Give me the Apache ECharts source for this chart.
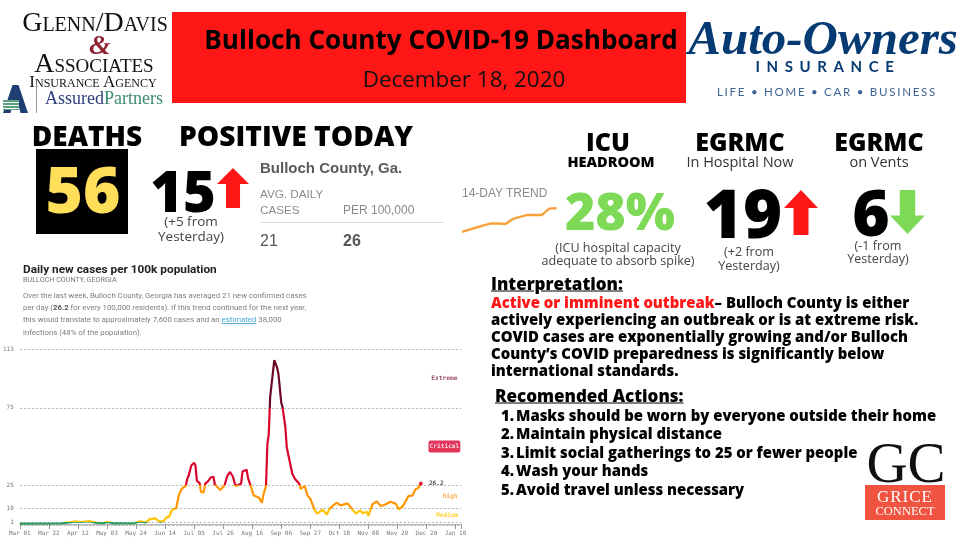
<!DOCTYPE html>
<html>
<head>
<meta charset="utf-8">
<title>Bulloch County COVID-19 Dashboard</title>
<script src="https://cdn.jsdelivr.net/npm/echarts@6/dist/echarts.min.js"></script>
<style>
  html, body { margin: 0; padding: 0; background: #fff; }
  #page { position: relative; width: 960px; height: 540px; overflow: hidden; font-family: "Open Sans", sans-serif; }
  #chart { position: absolute; left: 0; top: 0; width: 960px; height: 540px; }
  .t { position: absolute; white-space: nowrap; line-height: 1; transform: translateY(-50%); }
  .c { transform: translate(-50%, -50%); }
  .box { position: absolute; }
  .up { clip-path: polygon(50% 0, 100% 40%, 72% 40%, 72% 100%, 28% 100%, 28% 40%, 0 40%); }
  .down { clip-path: polygon(28% 0, 72% 0, 72% 58%, 100% 58%, 50% 100%, 0 58%, 28% 58%); }
  .big { font-weight: 800; color: #000; }
  .note { font-size: 13.5px; color: #444; }
  .head { font-weight: 800; color: #000; font-size: 25px; }
  .rep { font-family: Roboto, sans-serif; color: #7d7d7d; font-size: 7.8px; }
  .nyt { font-family: "Liberation Sans", sans-serif; color: #8a8a8a; font-size: 12px; }
  .body { font-weight: 800; color: #000; font-size: 14.9px; }
  .serif { font-family: "Liberation Serif", serif; color: #111; }
</style>
</head>
<body>
<div id="page">
  <div id="chart"></div>

  <!-- left logo -->
  <div class="t c serif" style="left:95px;top:22px;font-size:28px;font-variant:small-caps;">Glenn/Davis</div>
  <div class="t c serif" style="left:100px;top:45px;font-size:28px;font-style:italic;font-weight:700;color:#8c2232;">&amp;</div>
  <div class="t c serif" style="left:94px;top:63px;font-size:27.8px;font-variant:small-caps;">Associates</div>
  <div class="t c serif" style="left:93px;top:81px;font-size:17px;font-variant:small-caps;">Insurance Agency</div>
  <div class="box" style="left:3px;top:85px;width:25px;height:28px;background:#1f3f73;clip-path:polygon(38% 0,62% 0,100% 100%,70% 100%,58% 60%,42% 60%,30% 100%,0 100%);"></div>
  <div class="box" style="left:3px;top:100px;width:16px;height:10px;background:repeating-linear-gradient(#5aa17f 0 2px,#fff 2px 3px);"></div>
  <div class="box" style="left:36px;top:84px;width:1px;height:29px;background:#999;"></div>
  <div class="t serif" style="left:45px;top:98px;font-size:18px;color:#2b3f7e;">Assured<span style="color:#3d8c6c;">Partners</span></div>

  <!-- banner -->
  <div class="box" style="left:172px;top:12px;width:514px;height:91px;background:#ff1616;"></div>
  <div class="t c" style="left:441px;top:39px;font-size:26.1px;font-weight:700;color:#000;">Bulloch County COVID-19 Dashboard</div>
  <div class="t c" style="left:464px;top:79px;font-size:22.4px;color:#111;">December 18, 2020</div>

  <!-- right logo -->
  <div class="t c serif" style="left:823px;top:37px;font-size:49px;font-style:italic;font-weight:700;color:#053a73;">Auto-Owners</div>
  <div class="t c" style="left:828px;top:66px;font-size:15px;font-weight:700;letter-spacing:6.6px;color:#053a73;font-family:Lato,sans-serif;">INSURANCE</div>
  <div class="t c" style="left:827px;top:92px;font-size:11.5px;letter-spacing:1.75px;color:#3d6494;font-family:Lato,sans-serif;">LIFE • HOME • CAR • BUSINESS</div>

  <!-- deaths and positive -->
  <div class="t c big" style="left:87px;top:135px;font-size:28px;">DEATHS</div>
  <div class="box" style="left:36px;top:149px;width:92px;height:85px;background:#000;"></div>
  <div class="t c" style="left:83px;top:189px;font-size:64px;font-weight:800;color:#ffde59;">56</div>
  <div class="t c big" style="left:296px;top:135px;font-size:28.2px;">POSITIVE TODAY</div>
  <div class="t c big" style="left:183px;top:190px;font-size:56px;">15</div>
  <div class="box up" style="left:217px;top:168px;width:32px;height:40px;background:#ff1616;"></div>
  <div class="t c note" style="left:191px;top:222px;">(+5 from</div>
  <div class="t c note" style="left:191px;top:237px;">Yesterday)</div>

  <!-- county table -->
  <div class="t nyt" style="left:260px;top:167px;font-size:15px;font-weight:700;color:#5a5a5a;">Bulloch County, Ga.</div>
  <div class="t nyt" style="left:260px;top:194px;font-size:11.7px;">AVG. DAILY</div>
  <div class="t nyt" style="left:260px;top:210px;font-size:11.7px;">CASES</div>
  <div class="t nyt" style="left:343px;top:210px;">PER 100,000</div>
  <div class="box" style="left:260px;top:222px;width:184px;height:1px;background:#ddd;"></div>
  <div class="t nyt" style="left:260px;top:241px;font-size:16px;color:#555;">21</div>
  <div class="t nyt" style="left:343px;top:241px;font-size:16px;font-weight:700;color:#555;">26</div>
  <div class="t nyt" style="left:462px;top:193px;">14-DAY TREND</div>

  <!-- ICU -->
  <div class="t c head" style="left:608px;top:141px;">ICU</div>
  <div class="t c" style="left:611px;top:162px;font-size:14.5px;font-weight:800;color:#000;">HEADROOM</div>
  <div class="t c" style="left:620px;top:210px;font-size:52px;font-weight:800;color:#7ed957;">28%</div>
  <div class="t c note" style="left:618px;top:248px;font-size:12.6px;">(ICU hospital capacity</div>
  <div class="t c note" style="left:618px;top:261px;font-size:12.6px;">adequate to absorb spike)</div>

  <!-- in hospital -->
  <div class="t c head" style="left:740px;top:141px;">EGRMC</div>
  <div class="t c" style="left:740px;top:162px;font-size:14.5px;color:#333;">In Hospital Now</div>
  <div class="t c big" style="left:743px;top:212px;font-size:67px;">19</div>
  <div class="box up" style="left:784px;top:190px;width:34px;height:45px;background:#ff1616;"></div>
  <div class="t c note" style="left:749px;top:252px;font-size:12.6px;">(+2 from</div>
  <div class="t c note" style="left:749px;top:266px;font-size:12.6px;">Yesterday)</div>

  <!-- vents -->
  <div class="t c head" style="left:879px;top:141px;">EGRMC</div>
  <div class="t c" style="left:879px;top:162px;font-size:14.5px;color:#333;">on Vents</div>
  <div class="t c big" style="left:871px;top:212px;font-size:64px;">6</div>
  <div class="box down" style="left:890px;top:190px;width:35px;height:44px;background:#7ed957;"></div>
  <div class="t c note" style="left:878px;top:246px;font-size:12.6px;">(-1 from</div>
  <div class="t c note" style="left:878px;top:259px;font-size:12.6px;">Yesterday)</div>

  <!-- report text over the chart -->
  <div class="t" style="left:23px;top:269px;font:700 11.8px Roboto,sans-serif;color:#222;">Daily new cases per 100k population</div>
  <div class="t rep" style="left:23px;top:280px;font-size:7.2px;color:#777;">BULLOCH COUNTY, GEORGIA</div>
  <div class="t rep" style="left:23px;top:296px;">Over the last week, Bulloch County, Georgia has averaged 21 new confirmed cases</div>
  <div class="t rep" style="left:23px;top:308px;">per day (<b style="color:#555">26.2</b> for every 100,000 residents). If this trend continued for the next year,</div>
  <div class="t rep" style="left:23px;top:320px;">this would translate to approximately 7,600 cases and an <u style="color:#4aa8d8">estimated</u> 38,000</div>
  <div class="t rep" style="left:23px;top:333px;">infections (48% of the population).</div>

  <!-- interpretation -->
  <div class="t body" style="left:491px;top:283px;font-size:17px;text-decoration:underline;">Interpretation:</div>
  <div class="t body" style="left:491px;top:302px;"><span style="color:#ff1616;">Active or imminent outbreak</span>– Bulloch County is either</div>
  <div class="t body" style="left:491px;top:319px;">actively experiencing an outbreak or is at extreme risk.</div>
  <div class="t body" style="left:491px;top:336px;">COVID cases are exponentially growing and/or Bulloch</div>
  <div class="t body" style="left:491px;top:353px;">County’s COVID preparedness is significantly below</div>
  <div class="t body" style="left:491px;top:370px;">international standards.</div>

  <div class="t body" style="left:495px;top:395px;font-size:17px;text-decoration:underline;">Recomended Actions:</div>
  <div class="t body" style="left:501px;top:415px;">1.</div><div class="t body" style="left:516px;top:415px;">Masks should be worn by everyone outside their home</div>
  <div class="t body" style="left:501px;top:433px;">2.</div><div class="t body" style="left:516px;top:433px;">Maintain physical distance</div>
  <div class="t body" style="left:501px;top:452px;">3.</div><div class="t body" style="left:516px;top:452px;">Limit social gatherings to 25 or fewer people</div>
  <div class="t body" style="left:501px;top:470px;">4.</div><div class="t body" style="left:516px;top:470px;">Wash your hands</div>
  <div class="t body" style="left:501px;top:489px;">5.</div><div class="t body" style="left:516px;top:489px;">Avoid travel unless necessary</div>

  <!-- grice connect logo -->
  <div class="t c serif" style="left:906px;top:462px;font-size:57px;">GC</div>
  <div class="box" style="left:865px;top:485px;width:80px;height:35px;background:#f0533f;"></div>
  <div class="t c serif" style="left:905px;top:496px;font-size:17px;color:#fff;letter-spacing:1px;">GRICE</div>
  <div class="t c serif" style="left:905px;top:511px;font-size:12.5px;color:#fff;">CONNECT</div>
</div>

<script>
// days since Mar 01
var days = [0, 30, 36, 40, 44, 50, 55, 60, 63, 68, 83, 87, 91, 94, 98, 101, 104, 106, 108, 110,
    113, 115, 117, 120, 121, 122, 124, 126, 127, 128, 130, 131, 133, 134, 136, 138, 140, 141, 145, 148, 150,
    152, 154, 156, 160, 161, 164, 165, 166, 167, 169, 173, 175, 176, 178, 179, 180, 181, 182, 184, 186, 187,
    189, 190, 192, 193, 195, 197, 199, 202, 203, 206, 208, 210, 213, 215, 219, 222, 224, 229, 232, 237, 240,
    243, 246, 248, 251, 252, 255, 258, 261, 264, 268, 272, 274, 277, 281, 284, 286, 288, 290];

// daily new cases per 100k
var cases = [0.2, 0.4, 1.1, 1.7, 1.3, 1.9, 0.9, 0.4, 1.3, 0.4, 0.6, 1.7, 1.0, 3.2, 3.6, 1.5, 1.9, 4.3, 4.7, 9.2,
    10, 18.5, 22.7, 24.7, 29, 31, 37.8, 39.5, 37.8, 28, 26.4, 20.6, 20.6, 26, 27.5, 30, 30.5, 25.5, 21.9, 25, 31,
    33.6, 30.7, 24.5, 26, 33.9, 35, 29.6, 28.5, 24.5, 18.5, 17, 13.7, 18.5, 24.5, 51.7, 58, 81.8, 90, 105.8, 101, 96.8,
    78.5, 75.3, 62.4, 49.6, 41, 32.4, 29, 26, 22.7, 24.5, 18.5, 16.3, 9.4, 6.7, 9.2, 6.2, 9.9, 13.7, 12, 13.3, 9.9,
    6.7, 8.8, 7, 7.9, 5.2, 12.7, 14.6, 11.6, 12.4, 14.4, 13, 9.4, 11.6, 18, 18.5, 22.3, 23.2, 26.2];

var tickLabels = ["Mar 01", "Mar 22", "Apr 12", "May 03", "May 24", "Jun 14", "Jul 05", "Jul 26",
    "Aug 16", "Sep 06", "Sep 27", "Oct 18", "Nov 08", "Nov 29", "Dec 20", "Jan 10"];
var levels = [1, 10, 25, 75, 113];

// zone names on the right of the chart
var zoneNames = ["Extreme", "Critical", "High", "Medium"];
var zoneDays = [307, 307, 311, 309];
var zoneValues = [94, 50, 18, 5.4];
var zoneColors = ["#7a1535", "#fff", "#ff9a2e", "#ffc400"];

// 14-day trend
var trendDays = ["1", "2", "3", "4", "5", "6", "7", "8", "9", "10", "11", "12", "13", "14"];
var trendValues = [16, 17, 17.9, 18.8, 19.7, 19.6, 19.4, 21.6, 22.5, 23.3, 23.3, 23.3, 26, 26.2];

var mono = '"DejaVu Sans Mono", monospace';
var lastIdx = days.length - 1;

var chart = echarts.init(document.getElementById('chart'));
chart.setOption({
    animation: false,
    grid: [
        { left: 19, top: 349, width: 442, height: 175 },
        { left: 462, top: 204, width: 94.5, height: 32.6 }
    ],
    xAxis: [
        {
            type: 'value', gridIndex: 0, min: 0, max: 319, interval: 21,
            splitLine: { show: false },
            axisLine: { lineStyle: { color: '#aaa', width: 1 } },
            axisTick: { length: 5, lineStyle: { color: '#999' } },
            minorTick: { show: true, splitNumber: 21, length: 2, lineStyle: { color: '#bbb' } },
            axisLabel: {
                color: '#777', fontFamily: mono, fontSize: 6, margin: 6, hideOverlap: false,
                showMinLabel: true, showMaxLabel: false,
                formatter: function (v) { return v % 21 === 0 ? tickLabels[v / 21] : ''; }
            }
        },
        { type: 'category', gridIndex: 1, data: trendDays, boundaryGap: false, show: false }
    ],
    yAxis: [
        {
            type: 'value', gridIndex: 0, min: 0, max: 113,
            splitLine: { show: false },
            axisLine: { show: false },
            axisTick: { show: false },
            axisLabel: { color: '#777', fontFamily: mono, fontSize: 6, margin: 6, customValues: levels }
        },
        { type: 'value', gridIndex: 1, min: 14, max: 28, show: false, splitLine: { show: false } }
    ],
    visualMap: {
        show: false, seriesIndex: 0, dimension: 1,
        pieces: [
            { lte: 1, color: '#2f9e5f' },
            { gt: 1, lte: 10, color: '#ffc400' },
            { gt: 10, lte: 25, color: '#ff9500' },
            { gt: 25, lte: 75, color: '#d9042f' },
            { gt: 75, color: '#6b0a25' }
        ]
    },
    series: [
        {
            name: 'Daily new cases', type: 'line', xAxisIndex: 0, yAxisIndex: 0, z: 5,
            showSymbol: false, lineStyle: { width: 2.2 },
            data: days.map(function (d, i) { return [d, cases[i]]; }),
            markLine: {
                silent: true, symbol: 'none', label: { show: false },
                lineStyle: { type: [2, 2], color: '#b5b5b5', width: 1 },
                data: levels.map(function (v) { return { yAxis: v }; })
            }
        },
        {
            name: 'Latest', type: 'scatter', xAxisIndex: 0, yAxisIndex: 0, z: 6,
            symbolSize: 4, itemStyle: { color: '#d9042f' },
            data: [[days[lastIdx], cases[lastIdx]]],
            label: {
                show: true, position: 'right', distance: 6, color: '#222', fontFamily: mono,
                fontSize: 6.2, fontWeight: 'bold', formatter: function (p) { return p.value[1].toFixed(1); }
            }
        },
        {
            name: 'Zones', type: 'scatter', xAxisIndex: 0, yAxisIndex: 0, z: 6,
            symbolSize: 0,
            data: zoneNames.map(function (n, i) {
                return {
                    name: n, value: [zoneDays[i], zoneValues[i]],
                    label: {
                        color: zoneColors[i],
                        backgroundColor: n === 'Critical' ? '#d9042f' : 'transparent',
                        borderRadius: 2,
                        padding: n === 'Critical' ? [3, 1, 3, 1] : 0
                    }
                };
            }),
            label: {
                show: true, position: 'inside', fontFamily: mono, fontSize: 6.2, fontWeight: 'bold',
                formatter: function (p) { return p.name; }
            }
        },
        {
            name: '14-day trend', type: 'line', xAxisIndex: 1, yAxisIndex: 1,
            showSymbol: false, lineStyle: { color: '#f9a13d', width: 2.4 },
            data: trendValues
        }
    ]
});
</script>
</body>
</html>
